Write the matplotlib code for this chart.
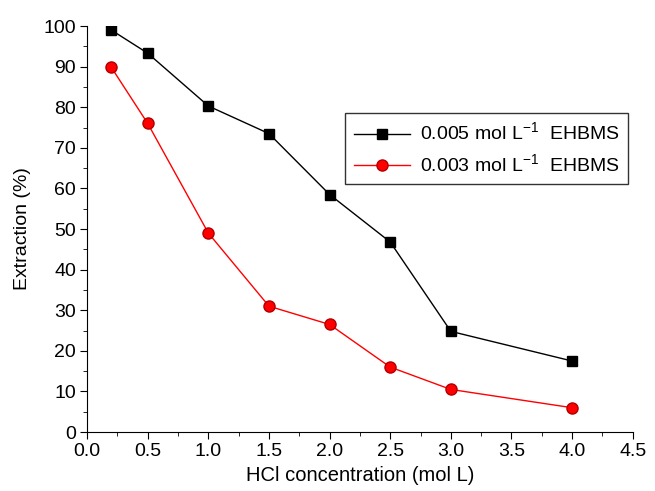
import numpy as np
import matplotlib.pyplot as plt

plt.rcParams['font.family'] = ['Liberation Sans', 'DejaVu Sans']
plt.rcParams['mathtext.fontset'] = 'custom'
plt.rcParams['mathtext.rm'] = 'Liberation Sans'

# HCl concentration (mol L)
hcl = [0.2, 0.5, 1.0, 1.5, 2.0, 2.5, 3.0, 4.0]
# Extraction (%)
ext_005 = [99.0, 93.3, 80.3, 73.5, 58.5, 46.8, 24.8, 17.5]
ext_003 = [89.8, 76.0, 49.0, 31.0, 26.5, 16.0, 10.5, 6.0]

fig = plt.figure(figsize=(6.55, 4.91), dpi=100)
ax = fig.add_axes([0.133, 0.12, 0.833, 0.827])

ax.plot(hcl, ext_005, color='black', lw=1, marker='s', ms=7,
        label='0.005 mol L$^{-1}$  EHBMS')
ax.plot(hcl, ext_003, color='red', lw=1, marker='o', ms=8,
        mfc='red', mec='#b00000', mew=1,
        label='0.003 mol L$^{-1}$  EHBMS')

ax.set_xlim(0, 4.5)
ax.set_ylim(0, 100)
ax.set_xticks(np.arange(0, 4.51, 0.5))
ax.set_xticks(np.arange(0, 4.51, 0.25), minor=True)
ax.set_yticks(np.arange(0, 101, 10))
ax.set_yticks(np.arange(0, 101, 5), minor=True)
ax.xaxis.set_major_formatter(plt.FormatStrFormatter('%.1f'))

for s in ['top', 'right']:
    ax.spines[s].set_visible(False)
ax.tick_params(which='major', direction='out', length=5, labelsize=14, pad=3)
ax.tick_params(which='minor', direction='out', length=3)

ax.set_xlabel('HCl concentration (mol L)', fontsize=14.5, labelpad=4)
ax.set_ylabel('Extraction (%)', fontsize=14, labelpad=9)

# legend box placed at its pixel spot in the figure
leg = ax.legend(loc='upper left', bbox_to_anchor=(345 / 655, 1 - 113 / 491),
                bbox_transform=fig.transFigure, fontsize=14, frameon=True,
                fancybox=False, edgecolor='black', borderpad=0.45,
                borderaxespad=0, handlelength=2.9, handletextpad=0.5,
                labelspacing=0.45)
leg.get_frame().set_linewidth(1)

fig.savefig('out.png', dpi=100)
